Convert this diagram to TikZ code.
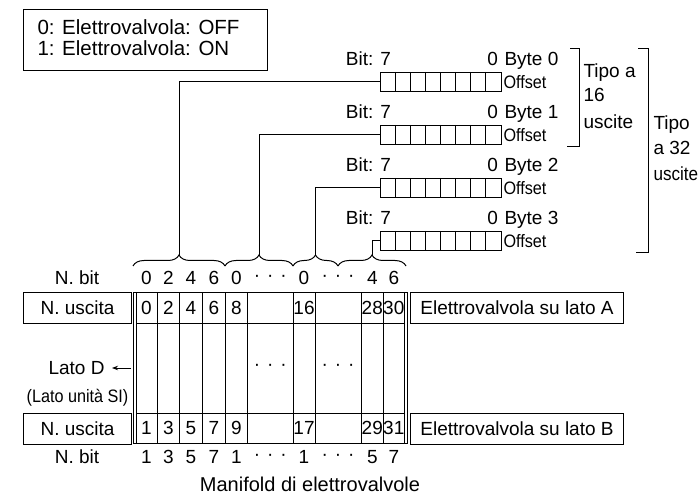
\documentclass[tikz,border=0pt]{standalone}
\usepackage{fontspec}
\setmainfont{Liberation Sans}
\usetikzlibrary{decorations.pathreplacing,arrows.meta,calc}
\newcommand{\tdots}{·\hspace{7pt}·\hspace{7pt}·}
\begin{document}
\begin{tikzpicture}[x=1pt,y=-1pt, line width=1pt,
  lbl/.style={inner sep=0pt, font=\fontsize{19}{24}\selectfont},
  leg/.style={inner sep=0pt, font=\fontsize{20.5}{24}\selectfont},
  cond/.style={inner sep=0pt, font=\fontsize{18}{22}\selectfont},
  reg/.style={draw, rectangle, minimum width=121pt, minimum height=19pt, inner sep=0pt, anchor=north west},
  box/.style={draw, rectangle, inner sep=0pt, anchor=north west, font=\fontsize{19}{24}\selectfont},
  bracetop/.style={decorate, decoration={brace, amplitude=11pt}},
]
\useasboundingbox (0,0) rectangle (699,497);

% legend
\node[box, minimum width=244pt, minimum height=61pt] (legend) at (23,9) {};
\node[leg, anchor=base west] (leg0) at (37,34.3) {0: Elettrovalvola: OFF};
\node[leg, anchor=base west] (leg1) at (37,56) {1: Elettrovalvola: ON};

% byte registers
\foreach \r/\T in {0/72,1/125,2/178,3/231}{
  \node[reg] (reg\r) at (380,\T) {};
  \foreach \k in {1,...,7}{
    \draw (380+\k*15.125,\T) -- (380+\k*15.125,\T+19);
  }
  \node[lbl, anchor=base east] (bit\r) at (391.5,\T-6.5) {Bit: 7};
  \node[lbl, anchor=base east] (zero\r) at (498.5,\T-6.5) {0};
  \node[lbl, anchor=base west] (byte\r) at (504,\T-6.5) {Byte \r};
  \node[cond, anchor=base west] (off\r) at (503,\T+16.5) {\scalebox{0.9}[1]{Offset}};
}

% right brackets
\draw (570,49) -- (579,49) -- (579,147) -- (567,147);
\draw (638,49) -- (648,49) -- (648,253) -- (636,253);
\node[lbl, anchor=base west] (ta1) at (583,77.3) {Tipo a};
\node[lbl, anchor=base west] (ta2) at (583,101.7) {16};
\node[lbl, anchor=base west] (ta3) at (583,128.3) {uscite};
\node[lbl, anchor=base west] (tb1) at (653,130) {Tipo};
\node[lbl, anchor=base west] (tb2) at (653,155) {a 32};
\node[lbl, anchor=base west] (tb3) at (653,180.7) {\scalebox{0.9}[1]{uscite}};

% braces
\draw[bracetop] (133,266) -- (225,266);
\draw[bracetop] (225,266) -- (293,266);
\draw[bracetop] (293,266) -- (338,266);
\draw[bracetop] (338,266) -- (406,266);
\coordinate (tip0) at (179,255);
\coordinate (tip1) at (259,255);
\coordinate (tip2) at (315.5,255);
\coordinate (tip3) at (372,255);

% connectors
\draw (reg0.west) -| (tip0);
\draw (reg1.west) -| (tip1);
\draw (reg2.west) -| (tip2);
\draw (reg3.west) -| (tip3);

% manifold
\draw (133,292) rectangle (407,443);
\draw (136,292) -- (136,443);
\draw (404,292) -- (404,443);
\draw (136,323) -- (404,323);
\draw (136,413) -- (404,413);
\foreach \x in {157,179.5,202.5,225,247.5,293,315,361,383.5}{
  \draw (\x,292) -- (\x,443);
}

% cell numbers
\foreach \x/\t [count=\i] in {146.5/0,168.3/2,191/4,213.8/6,236.3/8,304/16,372.3/28,393.8/30}{
  \node[lbl] (ua\i) at (\x,307.5) {\t};
}
\foreach \x/\t [count=\i] in {146.5/1,168.3/3,191/5,213.8/7,236.3/9,304/17,372.3/29,393.8/31}{
  \node[lbl] (ub\i) at (\x,428) {\t};
}
\foreach \x/\t [count=\i] in {146.5/0,168.3/2,191/4,213.8/6,236.3/0,270.3/\tdots,304/0,338/\tdots,372.3/4,393.8/6}{
  \node[lbl] (na\i) at (\x,278) {\t};
}
\foreach \x/\t [count=\i] in {146.5/1,168.3/3,191/5,213.8/7,236.3/1,270.3/\tdots,304/1,338/\tdots,372.3/5,393.8/7}{
  \node[lbl] (nb\i) at (\x,457) {\t};
}
\node[lbl] (md1) at (270.3,367) {\tdots};
\node[lbl] (md2) at (338,367) {\tdots};

% left labels
\node[lbl] (nbita) at (77,278) {N. bit};
\node[box, minimum width=108pt, minimum height=31pt] (usca) at (23,292) {N. uscita};
\node[box, minimum width=108pt, minimum height=31pt] (uscb) at (23,413) {N. uscita};
\node[lbl] (nbitb) at (77,457) {N. bit};
\node[lbl, anchor=east] (latod) at (105,368) {Lato D};
\coordinate (arrS) at (131,368);
\coordinate (arrE) at (112,368);
\draw[-{Stealth[length=6pt,width=4.5pt]}] (arrS) -- (arrE);
\node[cond] (latosi) at (77.5,398) {\scalebox{0.9}[1]{(Lato unità SI)}};

% right labels
\node[box, minimum width=213pt, minimum height=31pt] (sideA) at (410,292) {Elettrovalvola su lato A};
\node[box, minimum width=213pt, minimum height=31pt] (sideB) at (410,413) {Elettrovalvola su lato B};

% bottom title
\node[lbl, font=\fontsize{20}{24}\selectfont] (title) at (310,484) {Manifold di elettrovalvole};
\end{tikzpicture}
\end{document}
